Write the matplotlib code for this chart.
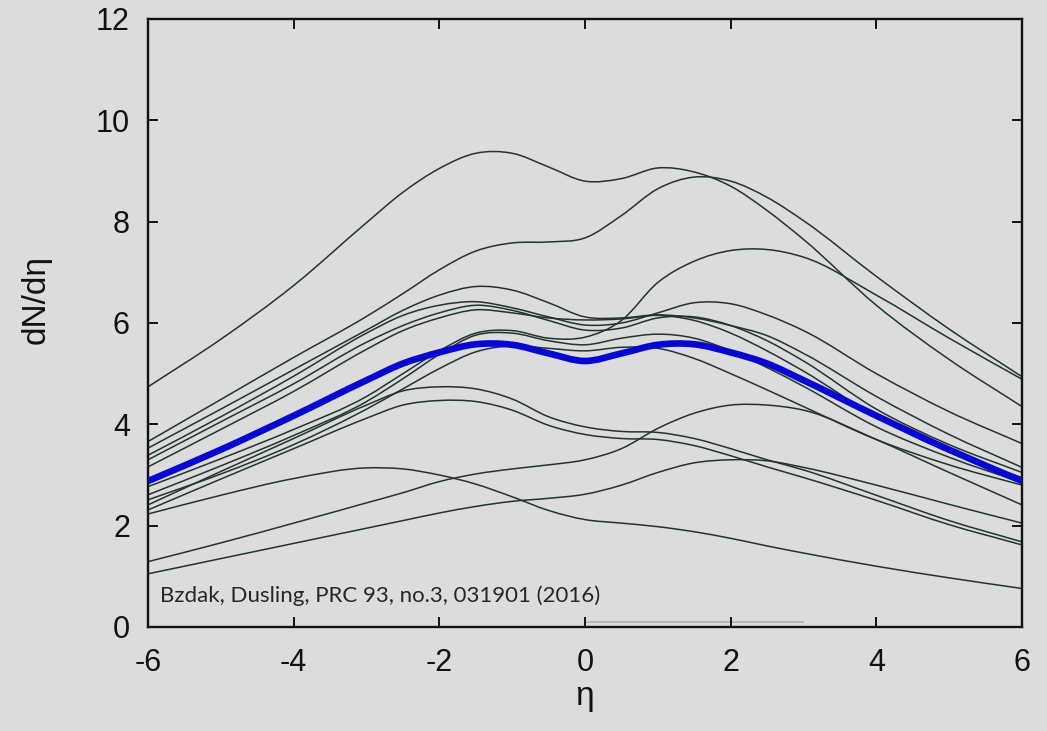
import matplotlib
matplotlib.use("Agg")
import matplotlib.pyplot as plt
from matplotlib.path import Path
from matplotlib.patches import PathPatch

# pseudorapidity grid on which every event curve is tabulated
eta = [-6, -5, -4, -3, -2.5, -2, -1.5, -1, -0.5, 0, 0.5, 1, 1.5, 2, 2.5, 3, 4, 5, 6]

# dN/deta for individual events
ev_a = [4.74, 5.68, 6.74, 7.98, 8.58, 9.05, 9.35, 9.35, 9.08, 8.80, 8.85, 9.06, 8.98, 8.70, 8.22, 7.65, 6.35, 5.28, 4.35]
ev_b = [3.66, 4.49, 5.32, 6.13, 6.58, 7.05, 7.42, 7.58, 7.60, 7.68, 8.12, 8.65, 8.88, 8.80, 8.48, 8.02, 6.92, 5.88, 4.94]
ev_c = [2.77, 3.32, 3.90, 4.55, 5.00, 5.45, 5.80, 5.85, 5.70, 5.72, 6.05, 6.80, 7.22, 7.43, 7.45, 7.30, 6.55, 5.70, 4.89]
ev_d = [3.53, 4.30, 5.08, 5.86, 6.25, 6.55, 6.72, 6.65, 6.40, 6.12, 6.10, 6.16, 6.10, 5.95, 5.75, 5.40, 4.55, 3.80, 3.15]
ev_e = [3.39, 4.15, 4.95, 5.80, 6.15, 6.35, 6.42, 6.30, 6.12, 5.96, 6.00, 6.20, 6.40, 6.38, 6.16, 5.85, 5.00, 4.25, 3.62]
ev_f = [3.30, 4.05, 4.80, 5.62, 5.95, 6.20, 6.35, 6.25, 6.05, 5.86, 5.90, 6.10, 6.12, 5.95, 5.65, 5.25, 4.30, 3.60, 3.05]
ev_g = [3.16, 3.90, 4.65, 5.48, 5.85, 6.10, 6.26, 6.20, 6.10, 6.06, 6.08, 6.15, 6.05, 5.80, 5.45, 5.05, 4.15, 3.45, 2.95]
ev_h = [2.61, 3.18, 3.78, 4.45, 4.90, 5.38, 5.76, 5.80, 5.65, 5.57, 5.70, 5.78, 5.70, 5.45, 5.12, 4.75, 3.95, 3.35, 2.85]
ev_i = [2.51, 3.02, 3.60, 4.30, 4.70, 5.10, 5.43, 5.55, 5.50, 5.45, 5.52, 5.50, 5.30, 5.00, 4.68, 4.35, 3.70, 3.20, 2.80]
ev_j = [2.41, 3.07, 3.72, 4.38, 4.66, 4.74, 4.70, 4.50, 4.15, 3.95, 3.86, 3.84, 3.72, 3.52, 3.30, 3.10, 2.60, 2.10, 1.68]
ev_k = [2.31, 2.92, 3.52, 4.12, 4.38, 4.47, 4.45, 4.28, 3.98, 3.80, 3.72, 3.70, 3.58, 3.38, 3.16, 2.95, 2.50, 2.02, 1.62]
ev_l = [1.29, 1.66, 2.05, 2.45, 2.65, 2.87, 3.02, 3.12, 3.20, 3.30, 3.52, 3.92, 4.22, 4.38, 4.38, 4.28, 3.70, 3.05, 2.41]
ev_m = [1.05, 1.35, 1.65, 1.95, 2.10, 2.25, 2.38, 2.48, 2.54, 2.62, 2.80, 3.05, 3.24, 3.30, 3.28, 3.15, 2.80, 2.42, 2.05]
ev_n = [2.23, 2.60, 2.93, 3.14, 3.12, 3.00, 2.82, 2.57, 2.30, 2.12, 2.05, 1.98, 1.88, 1.75, 1.60, 1.46, 1.20, 0.97, 0.76]

events = [ev_a, ev_b, ev_c, ev_d, ev_e, ev_f, ev_g, ev_h, ev_i, ev_j, ev_k, ev_l, ev_m, ev_n]

# event-averaged distribution
mean_curve = [2.88, 3.50, 4.17, 4.87, 5.20, 5.42, 5.58, 5.57, 5.40, 5.25, 5.40, 5.57, 5.58, 5.42, 5.20, 4.87, 4.17, 3.50, 2.88]

# faint reference segment along the bottom of the frame
ref_eta = [0, 3]
ref_val = [0.1, 0.1]

citation = "Bzdak, Dusling, PRC 93, no.3, 031901 (2016)"

BG = "#dcdcdc"
EVENT_COLOR = "#213431"
MEAN_COLOR = "#0707cf"


def smooth_path(xs, ys):
    """Cubic Hermite (Bezier) path through the tabulated points."""
    n = len(xs)
    slopes = []
    for i in range(n):
        if i == 0:
            slopes.append((ys[1] - ys[0]) / (xs[1] - xs[0]))
        elif i == n - 1:
            slopes.append((ys[-1] - ys[-2]) / (xs[-1] - xs[-2]))
        else:
            h0 = xs[i] - xs[i - 1]
            h1 = xs[i + 1] - xs[i]
            d0 = (ys[i] - ys[i - 1]) / h0
            d1 = (ys[i + 1] - ys[i]) / h1
            slopes.append((d0 * h1 + d1 * h0) / (h0 + h1))
    verts = [(xs[0], ys[0])]
    codes = [Path.MOVETO]
    for i in range(n - 1):
        h = xs[i + 1] - xs[i]
        verts += [
            (xs[i] + h / 3, ys[i] + slopes[i] * h / 3),
            (xs[i + 1] - h / 3, ys[i + 1] - slopes[i + 1] * h / 3),
            (xs[i + 1], ys[i + 1]),
        ]
        codes += [Path.CURVE4] * 3
    return Path(verts, codes)


plt.rcParams["font.family"] = ["Liberation Sans", "DejaVu Sans"]
plt.rcParams["axes.unicode_minus"] = False

fig = plt.figure(figsize=(10.47, 7.31), dpi=100, facecolor=BG)
ax = fig.add_axes([148 / 1047, (731 - 627) / 731, (1022 - 148) / 1047, (627 - 19) / 731])
ax.set_facecolor(BG)

ax.plot(ref_eta, ref_val, color="#ababab", lw=1.1, zorder=1, solid_capstyle="butt")

for ev in events:
    ax.add_patch(PathPatch(smooth_path(eta, ev), fill=False, edgecolor=EVENT_COLOR,
                           lw=1.1, zorder=2))

ax.add_patch(PathPatch(smooth_path(eta, mean_curve), fill=False, edgecolor=MEAN_COLOR,
                       lw=4.8, zorder=3, capstyle="butt"))

ax.set_xlim(-6, 6)
ax.set_ylim(0, 12)
ax.set_xticks([-6, -4, -2, 0, 2, 4, 6])
ax.set_yticks([0, 2, 4, 6, 8, 10, 12])
ax.tick_params(direction="in", length=7, width=1.4, top=True, right=True,
               labelsize=22, colors="#111111")
ax.tick_params(axis="x", pad=15)
ax.tick_params(axis="y", pad=13)
for sp in ax.spines.values():
    sp.set_linewidth(1.7)
    sp.set_color("#111111")

ax.set_xlabel("η", fontsize=24, labelpad=2, color="#111111")
ax.set_ylabel("dN/dη", fontsize=24, color="#111111")
ax.yaxis.set_label_coords(-0.110, 0.538)

ax.text(-5.84, 0.62, citation, fontsize=16, family=["Lato", "DejaVu Sans"],
        color="#262626", ha="left", va="center", zorder=4)

fig.savefig("out.png", dpi=100, facecolor=BG)
